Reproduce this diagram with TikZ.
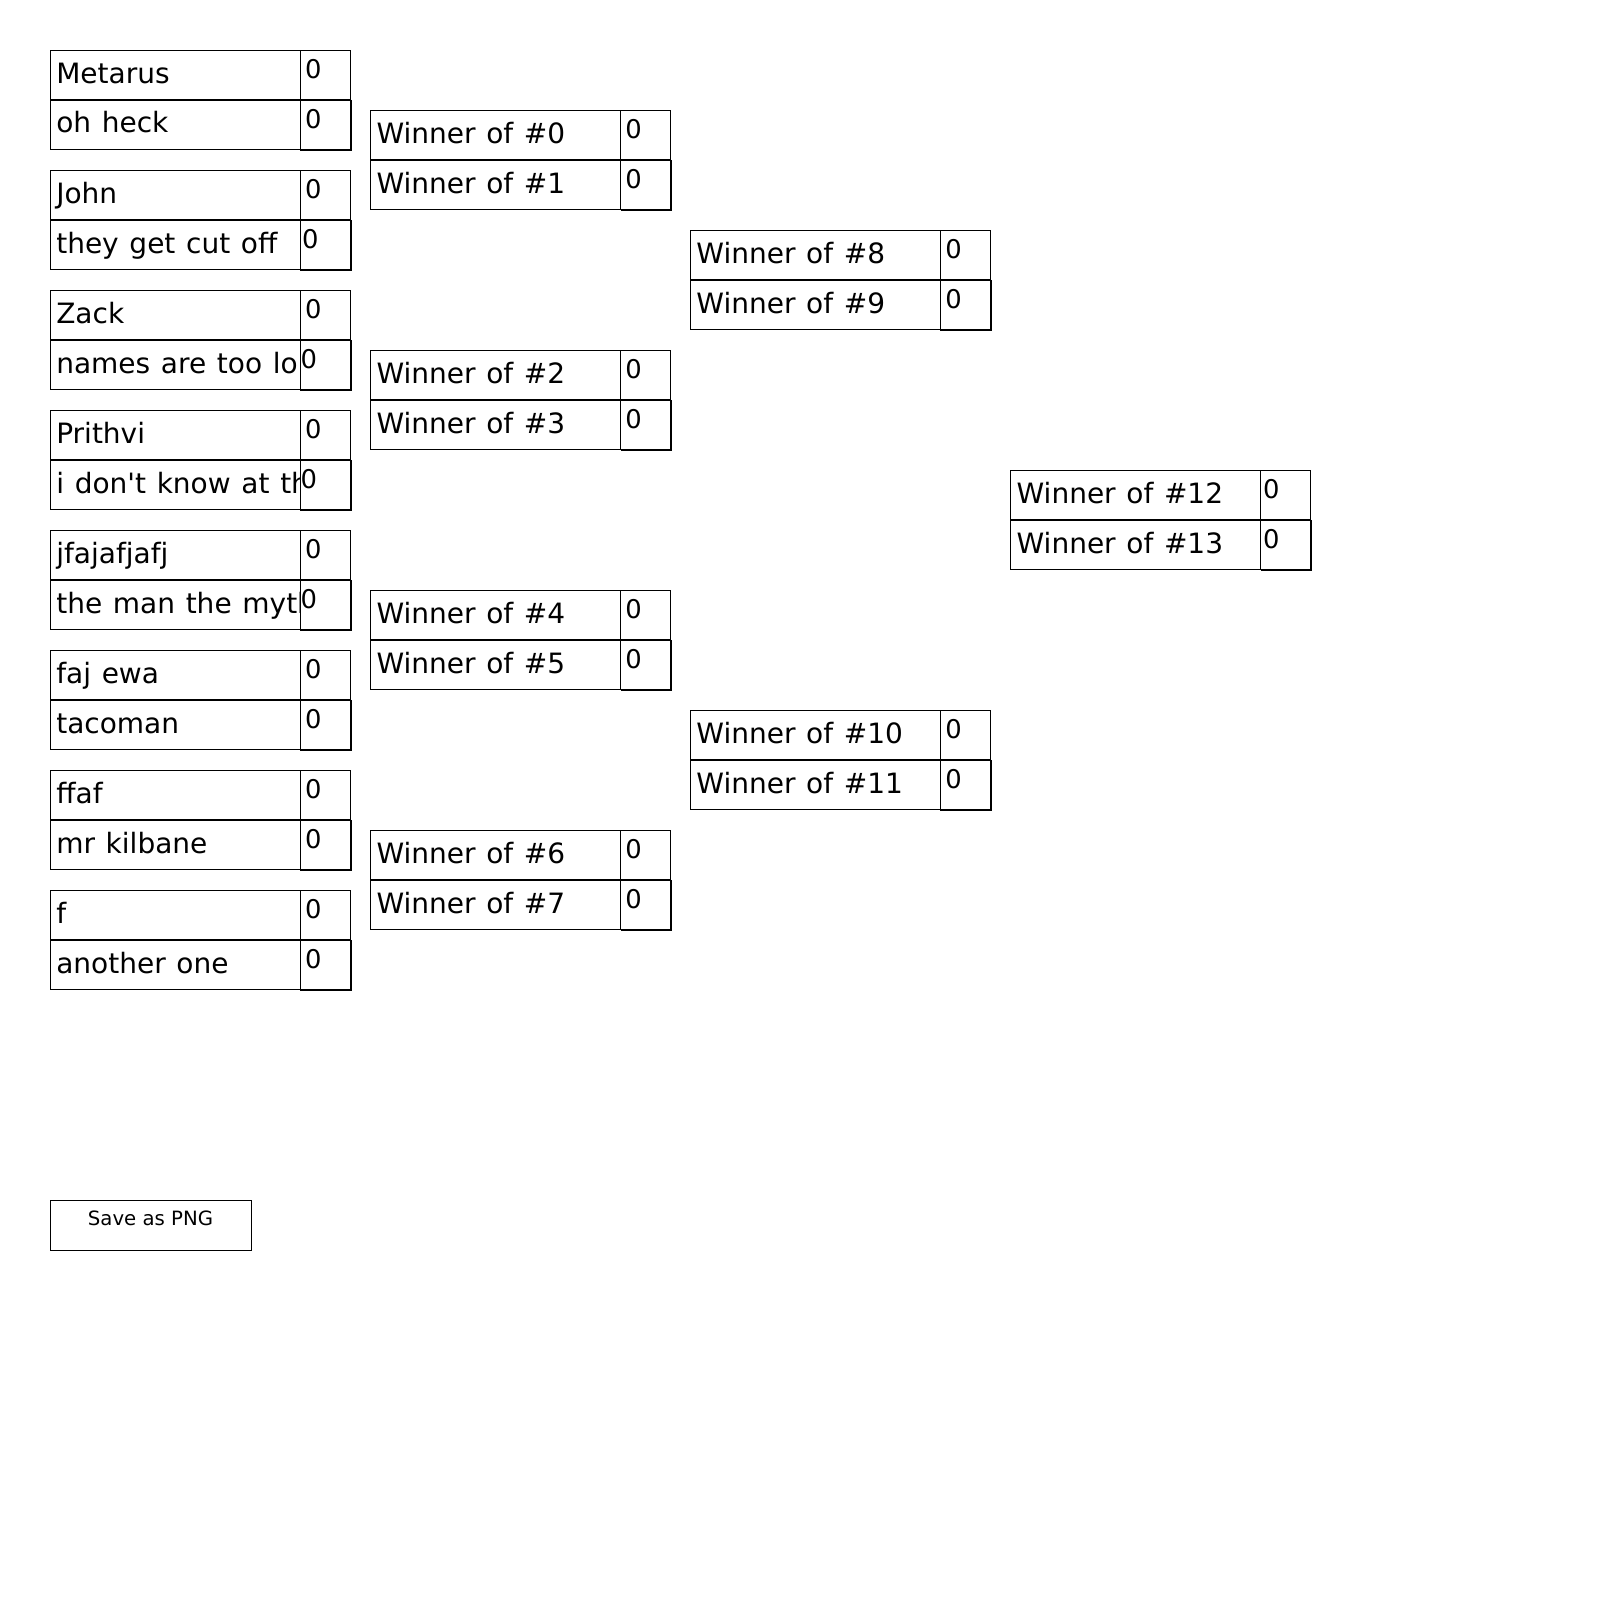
\documentclass[tikz,border=0pt]{standalone}
\usepackage{fontspec}
\setmainfont{DejaVu Sans}[WordSpace=1.2]
\newfontfamily\buttonfont{DejaVu Sans}
\begin{document}
\begin{tikzpicture}[x=0.5pt,y=-0.5pt,
  cellline/.style={draw=black,line width=0.55pt},
  namecell/.style={cellline,anchor=north west,inner sep=0pt,outer sep=0pt,
    minimum width=125pt,minimum height=24.65pt,
    path picture={\node[nametext,shift={(6,33)}] at (path picture bounding box.north west) {#1};}},
  nametext/.style={draw=none,minimum width=0pt,minimum height=0pt,anchor=base west,inner sep=0pt,
    font=\fontsize{14pt}{16pt}\selectfont},
  scorecell/.style={cellline,anchor=north west,inner sep=0pt,outer sep=0pt,
    minimum width=25pt,minimum height=24.65pt},
  scoretext/.style={anchor=base west,inner sep=0pt,font=\buttonfont\fontsize{12.9pt}{15pt}\selectfont},
  button/.style={cellline,anchor=north west,inner sep=0pt,minimum width=100.2pt,minimum height=25pt},
  buttontext/.style={anchor=base,inner sep=0pt,font=\buttonfont\fontsize{9.85pt}{12pt}\selectfont}]
\useasboundingbox (0,0) rectangle (1600,1600);
\fill[white] (0,0) rectangle (1600,1600);
% #1 id, #2 x, #3 y, #4 top name, #5 bottom name, #6 top score offset, #7 bottom score offset
\newcommand\bmatch[7]{%
  \node[namecell={#4}] (#1a) at (#2,#3) {};
  \node[namecell={#5}] (#1b) at (#2,#3+49.3) {};
  \node[scorecell] (#1sa) at (#2+250,#3) {};
  \node[scorecell] (#1sb) at (#2+250,#3+49.3) {};
  \draw[line width=0.55pt] ([xshift=0.5pt]#1sb.north east) -- ([shift={(0.5pt,-0.5pt)}]#1sb.south east) -- ([yshift=-0.5pt]#1sb.south west);
  \node[scoretext,shift={(#6,28.2)}] (#1ta) at (#1sa.north west) {0};
  \node[scoretext,shift={(#7,28.2)}] (#1tb) at (#1sb.north west) {0};
}
% Round 1
\bmatch{m0}{50.3}{50.7}{Metarus}{oh heck}{4.5}{4.5}
\bmatch{m1}{50.3}{170.7}{John}{they get cut off}{4.5}{1.5}
\bmatch{m2}{50.3}{290.7}{Zack}{names are too long}{4.5}{0}
\bmatch{m3}{50.3}{410.7}{Prithvi}{i don\textquotesingle t know at this point}{4.5}{0}
\bmatch{m4}{50.3}{530.7}{jfajafjafj}{the man the myth}{4.5}{0}
\bmatch{m5}{50.3}{650.7}{faj ewa}{tacoman}{4.5}{4.5}
\bmatch{m6}{50.3}{770.7}{ffaf}{mr kilbane}{4.5}{4.5}
\bmatch{m7}{50.3}{890.7}{f}{another one}{4.5}{4.5}
% Round 2
\bmatch{m8}{370.5}{110.7}{Winner of \#0}{Winner of \#1}{4.5}{4.5}
\bmatch{m9}{370.5}{350.7}{Winner of \#2}{Winner of \#3}{4.5}{4.5}
\bmatch{m10}{370.5}{590.7}{Winner of \#4}{Winner of \#5}{4.5}{4.5}
\bmatch{m11}{370.5}{830.7}{Winner of \#6}{Winner of \#7}{4.5}{4.5}
% Round 3
\bmatch{m12}{690.4}{230.7}{Winner of \#8}{Winner of \#9}{4.6}{4.6}
\bmatch{m13}{690.4}{710.7}{Winner of \#10}{Winner of \#11}{4.6}{4.6}
% Round 4
\bmatch{m14}{1010.6}{470.7}{Winner of \#12}{Winner of \#13}{2}{2}
% Button
\node[button] (save) at (50.3,1200.3) {};
\node[buttontext] (savetext) at (150.5,1225) {Save as PNG};
\end{tikzpicture}
\end{document}
